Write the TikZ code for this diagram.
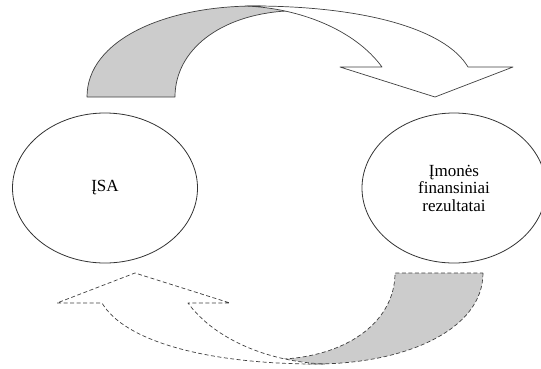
\documentclass[tikz,border=0pt]{standalone}
\usepackage{fontspec}
\setmainfont{Liberation Serif}
\usetikzlibrary{shapes.geometric}

\begin{document}
\begin{tikzpicture}[x=1pt, y=-1pt, oval/.style={ellipse, draw=black!80, line width=0.8pt, align=center, inner sep=0pt, font=\fontsize{17}{17.5}\selectfont}, band/.style={draw=black!75, line width=0.7pt, line join=round}, backband/.style={band, fill=black!20}, frontband/.style={band, fill=white}, dashedband/.style={dash pattern=on 4pt off 2.5pt}]
    \useasboundingbox (0,0) rectangle (541,368);

    %Nodes
    \node[oval, minimum width=185pt, minimum height=150pt](isa) at (105,188){ĮSA};
    \node[oval, minimum width=184pt, minimum height=150pt](results) at (454,188){Įmonės\\finansiniai\\rezultatai};

    %Upper arrow
    \draw[backband] (87,97) .. controls (87,40) and (165,6) .. (255,6) .. controls (270,6) and (280,8) .. (286,11) .. controls (220,15) and (175,50) .. (175,97) -- cycle;
    \draw[frontband] (245,6) .. controls (360,5) and (445,28) .. (468,67) -- (513,67) -- (435,97) -- (340,67) -- (382,67) .. controls (355,30) and (300,8) .. (245,6) -- cycle;

    %Lower arrow
    \begin{scope}[rotate around={180:(285,185)}]
    \draw[backband, dashedband] (87,97) .. controls (87,40) and (165,6) .. (255,6) .. controls (270,6) and (280,8) .. (286,11) .. controls (220,15) and (175,50) .. (175,97) -- cycle;
    \draw[frontband, dashedband] (245,6) .. controls (360,5) and (445,28) .. (468,67) -- (513,67) -- (435,97) -- (340,67) -- (382,67) .. controls (355,30) and (300,8) .. (245,6) -- cycle;
    \end{scope}

\end{tikzpicture}
\end{document}
